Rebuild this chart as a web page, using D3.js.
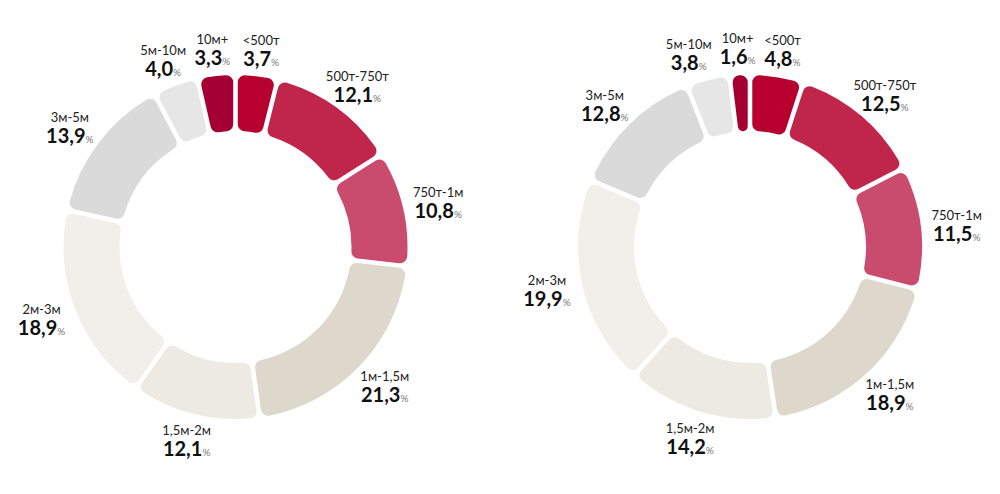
<!DOCTYPE html>
<html><head><meta charset="utf-8">
<script src="https://cdn.jsdelivr.net/npm/d3@7"></script>
<style>
html,body{margin:0;padding:0;background:#fff;}
svg{display:block;font-family:"Lato","Open Sans","Noto Sans",sans-serif;}
</style></head>
<body><svg id="chart" width="1000" height="494"></svg>
<script>
const categories = ["<500т","500т-750т","750т-1м","1м-1,5м","1,5м-2м","2м-3м","3м-5м","5м-10м","10м+"];
const valuesLeft  = [3.7, 12.1, 10.8, 21.3, 12.1, 18.9, 13.9, 4.0, 3.3];
const valuesRight = [4.8, 12.5, 11.5, 18.9, 14.2, 19.9, 12.8, 3.8, 1.6];
const colors = ["#b8002f","#c0254c","#c94c6e","#ddd8cb","#edeae3","#f1efea","#dadada","#e6e6e6","#a50034"];

const svg = d3.select("#chart");
const outerR = 172, innerR = 116, labelRx = 208, labelRy = 199;
const color = d3.scaleOrdinal().domain(categories).range(colors);
const fmt = v => d3.format(".1f")(v).replace(".", ",");

function donut(values, cx, cy) {
  const data = categories.map((c, i) => ({cat: c, value: values[i]}));
  const pie = d3.pie().sort(null).value(d => d.value).padAngle(0.022);
  const arc = d3.arc().innerRadius(innerR).outerRadius(outerR).cornerRadius(7);
  const g = svg.append("g").attr("transform", `translate(${cx},${cy})`);
  const arcs = pie(data);
  g.selectAll("path").data(arcs).join("path")
    .attr("d", arc).attr("fill", d => color(d.data.cat));
  arcs.forEach(d => {
    d.mid = (d.startAngle + d.endAngle) / 2;
    d.lx = labelRx * Math.sin(d.mid);
    d.ly = -labelRy * Math.cos(d.mid);
  });
  const lab = g.selectAll("g.lab").data(arcs).join("g").attr("class", "lab");
  lab.append("text").attr("text-anchor", "middle").attr("y", -5)
    .attr("font-size", 13).attr("fill", "#222").text(d => d.data.cat);
  const t = lab.append("text").attr("text-anchor", "middle").attr("y", 16);
  t.append("tspan").attr("font-size", 20).attr("font-weight", "bold").attr("fill", "#111")
    .text(d => fmt(d.data.value));
  t.append("tspan").attr("font-size", 10).attr("fill", "#777").text("%");
  lab.each(function(d) { d.w = this.getBBox().width; });
  // spread the labels near the top so they do not touch (push leftwards from the first slice)
  const top = arcs.filter(d => Math.cos(d.mid) > 0.85).sort((a, b) => b.lx - a.lx);
  for (let i = 1; i < top.length; i++) {
    const need = (top[i - 1].w + top[i].w) / 2 + 8;
    if (top[i - 1].lx - top[i].lx < need) top[i].lx = top[i - 1].lx - need;
  }
  lab.attr("transform", d => `translate(${d.lx},${d.ly})`);
}
donut(valuesLeft, 235.5, 247);
donut(valuesRight, 750, 247);
</script></body></html>
